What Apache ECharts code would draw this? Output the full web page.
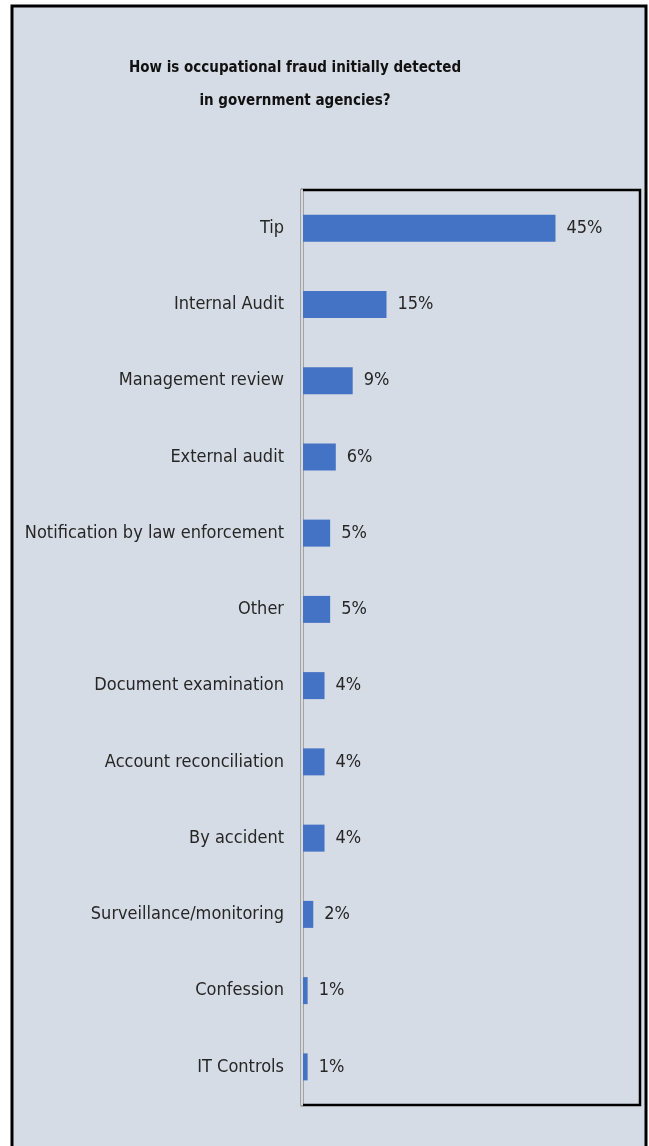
<!DOCTYPE html>
<html>
<head>
<meta charset="utf-8">
<script src="https://cdn.jsdelivr.net/npm/echarts@6/dist/echarts.min.js"></script>
<style>
  html, body { margin: 0; padding: 0; background: #fff; }
  #main { width: 649px; height: 1146px; }
</style>
</head>
<body>
<div id="main"></div>
<script>
var categories = [
    "Tip", "Internal Audit", "Management review", "External audit",
    "Notification by law enforcement", "Other", "Document examination",
    "Account reconciliation", "By accident", "Surveillance/monitoring",
    "Confession", "IT Controls"
];
var values = [45, 15, 9, 6, 5, 5, 4, 4, 4, 2, 1, 1];
var titleText = "How is occupational fraud initially detected\nin government agencies?";

var narrow = "'Liberation Sans Narrow', 'DejaVu Sans Condensed', sans-serif";
var textColor = "#262626";

var myChart = echarts.init(document.getElementById("main"));

var option = {
    backgroundColor: "#fff",
    title: {
        text: titleText,
        left: 290,
        top: 47,
        textAlign: "center",
        textStyle: {
            fontFamily: narrow,
            fontWeight: "bold",
            fontSize: 15,
            lineHeight: 33,
            color: "#111"
        }
    },
    // frame around the whole chart
    graphic: [{
        type: "rect",
        z: -10,
        shape: { x: 12, y: 6, width: 634, height: 1160 },
        style: { fill: "#D6DCE5", stroke: "#000", lineWidth: 3 }
    }],
    grid: {
        left: 302,
        right: 9,
        top: 190,
        bottom: 41,
        containLabel: false,
        outerBoundsMode: "none",
        show: true,
        backgroundColor: "transparent",
        borderColor: "#000",
        borderWidth: 2.5
    },
    xAxis: {
        type: "value",
        min: 0,
        max: 60,
        axisLine: { show: false },
        axisTick: { show: false },
        axisLabel: { show: false },
        splitLine: { show: false }
    },
    yAxis: {
        type: "category",
        data: categories,
        inverse: true,
        z: 5,
        axisLine: { show: true, lineStyle: { color: "#D9D9D9", width: 2 } },
        axisTick: { show: false },
        axisLabel: {
            margin: 18,
            fontFamily: narrow,
            fontSize: 18,
            color: textColor
        }
    },
    series: [{
        type: "bar",
        data: values,
        barWidth: 27,
        itemStyle: { color: "#4472C4" },
        label: {
            show: true,
            position: "right",
            distance: 11,
            formatter: "{c}%",
            fontFamily: narrow,
            fontSize: 18,
            color: textColor
        }
    }]
};

myChart.setOption(option);
window.addEventListener("resize", function () { myChart.resize(); });
</script>
</body>
</html>
